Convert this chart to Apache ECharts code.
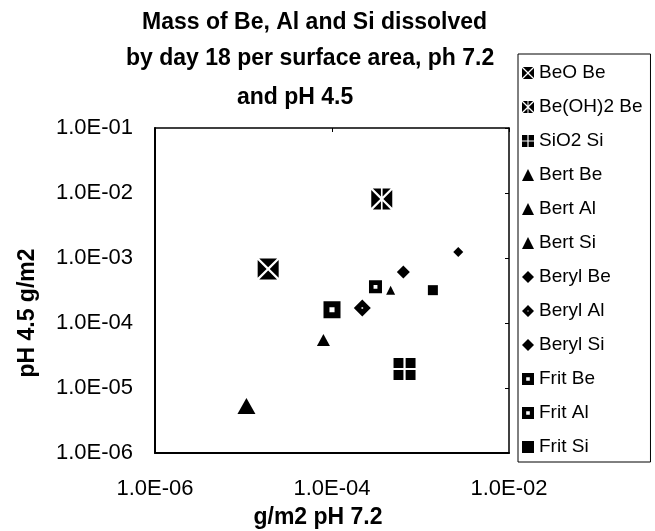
<!DOCTYPE html>
<html>
<head>
<meta charset="UTF-8">
<title>Mass dissolved by day 18</title>
<script src="https://cdn.jsdelivr.net/npm/echarts@6/dist/echarts.min.js"></script>
<style>
	html, body { margin: 0; padding: 0; background: #fff; }
	#main { width: 655px; height: 531px; }
</style>
</head>
<body>
	<div id="main"></div>
	<script>
		// series names, one point each
		var seriesNames = ['BeO Be', 'Be(OH)2 Be', 'SiO2 Si', 'Bert Be', 'Bert Al', 'Bert Si',
			'Beryl Be', 'Beryl Al', 'Beryl Si', 'Frit Be', 'Frit Al', 'Frit Si'];
		// g/m2 at pH 7.2 (x)
		var ph72 = [1.9e-5, 3.65e-4, 6.6e-4, 1.08e-5, 8.0e-5, 4.6e-4, 6.4e-4, 2.2e-4, 2.67e-3, 3.1e-4, 1.0e-4, 1.38e-3];
		// g/m2 at pH 4.5 (y)
		var ph45 = [6.8e-4, 8.1e-3, 1.96e-5, 5.3e-6, 5.5e-5, 3.2e-4, 6.1e-4, 1.7e-4, 1.24e-3, 3.6e-4, 1.6e-4, 3.2e-4];
		var titleLines = ['Mass of Be, Al and Si dissolved', 'by day 18 per surface area, ph 7.2', 'and pH 4.5'];

		// marker shapes
		var xBox = 'path://M1.5,0L18.5,0L10,8.5ZM20,1.5L20,18.5L11.5,10ZM18.5,20L1.5,20L10,11.5ZM0,18.5L0,1.5L8.5,10Z';
		var starBox = 'path://M1.5,0L9.2,0L9.2,7.7ZM10.8,0L18.5,0L10.8,7.7ZM20,1.5L20,18.5L11.5,10Z' +
			'M1.5,20L9.2,20L9.2,12.3ZM10.8,20L18.5,20L10.8,12.3ZM0,1.5L8.5,10L0,18.5Z';
		var plusBox = 'path://M0,0L9,0L9,9L0,9ZM11,0L20,0L20,9L11,9ZM0,11L9,11L9,20L0,20ZM11,11L20,11L20,20L11,20Z';
		var hollowSq = 'path://M0,0L20,0L20,20L0,20ZM7,7L7,13L13,13L13,7Z';
		var dotDiamond = 'path://M10,0L20,10L10,20L0,10ZM9,9L9,11L11,11L11,9Z';
		var symbols = [xBox, starBox, plusBox, 'triangle', 'triangle', 'triangle',
			'diamond', dotDiamond, 'diamond', hollowSq, hollowSq, 'rect'];
		var sizes = [21, 21, 22, [18, 16], [13, 12], [9, 9], 13, 17, 10, 13, 17, 10];

		var font = 'Liberation Sans, Arial, sans-serif';

		function sci(v) {
			var e = Math.round(Math.log(v) / Math.LN10);
			var a = Math.abs(e);
			return '1.0E' + (e < 0 ? '-' : '+') + (a < 10 ? '0' : '') + a;
		}

		var myChart = echarts.init(document.getElementById('main'));

		var series = [];
		for (var i = 0; i < seriesNames.length; i++) {
			series.push({
				name: seriesNames[i],
				type: 'scatter',
				xAxisIndex: 0,
				yAxisIndex: 0,
				symbol: symbols[i],
				symbolSize: sizes[i],
				itemStyle: { color: '#000', opacity: 1 },
				data: [[ph72[i], ph45[i]]]
			});
		}

		// title lines are not quite centred on each other in the original
		var titleX = [142, 126, 237];
		var titleY = [23, 59, 98];
		var graphics = [];
		for (var j = 0; j < titleLines.length; j++) {
			graphics.push({
				type: 'text', x: titleX[j], y: titleY[j],
				style: { text: titleLines[j], font: 'bold 23px ' + font, fill: '#000', align: 'left', verticalAlign: 'middle' }
			});
		}
		graphics.push({
			type: 'text', x: 318, y: 518,
			style: { text: 'g/m2 pH 7.2', font: 'bold 23px ' + font, fill: '#000', align: 'center', verticalAlign: 'middle' }
		});
		graphics.push({
			type: 'text', x: 28, y: 313, rotation: Math.PI / 2,
			style: { text: 'pH 4.5 g/m2', font: 'bold 23px ' + font, fill: '#000', align: 'center', verticalAlign: 'middle' }
		});

		var option = {
			backgroundColor: '#fff',
			animation: false,
			graphic: graphics,
			grid: { left: 155, right: 146, top: 128, bottom: 78 },
			legend: {
				orient: 'vertical',
				left: 518,
				top: 54,
				padding: [9, 8, 5, 4],
				itemGap: 14,
				itemWidth: 12,
				itemHeight: 12,
				borderColor: '#000',
				borderWidth: 1,
				textStyle: { fontFamily: font, fontSize: 19, lineHeight: 20, color: '#000' },
				data: seriesNames
			},
			xAxis: [{
				type: 'log',
				logBase: 100,
				min: 1e-6,
				max: 1e-2,
				axisLine: { lineStyle: { color: '#000', width: 2 } },
				axisTick: { show: false },
				splitLine: { show: false },
				axisLabel: { formatter: sci, color: '#000', fontFamily: font, fontSize: 22, lineHeight: 22, margin: 25 }
			}, {
				type: 'log',
				logBase: 100,
				min: 1e-6,
				max: 1e-2,
				position: 'top',
				axisLine: { lineStyle: { color: '#000', width: 1.5 } },
				axisTick: { inside: true, length: 4, lineStyle: { color: '#000' } },
				axisLabel: { show: false },
				splitLine: { show: false }
			}],
			yAxis: [{
				type: 'log',
				logBase: 10,
				min: 1e-6,
				max: 1e-1,
				axisLine: { lineStyle: { color: '#000', width: 2 } },
				axisTick: { show: false },
				splitLine: { show: false },
				axisLabel: { formatter: sci, color: '#000', fontFamily: font, fontSize: 22, margin: 22 }
			}, {
				type: 'log',
				logBase: 10,
				min: 1e-6,
				max: 1e-1,
				position: 'right',
				axisLine: { lineStyle: { color: '#000', width: 1.5 } },
				axisTick: { inside: true, length: 4, lineStyle: { color: '#000' } },
				axisLabel: { show: false },
				splitLine: { show: false }
			}],
			series: series
		};

		myChart.setOption(option);
	</script>
</body>
</html>
